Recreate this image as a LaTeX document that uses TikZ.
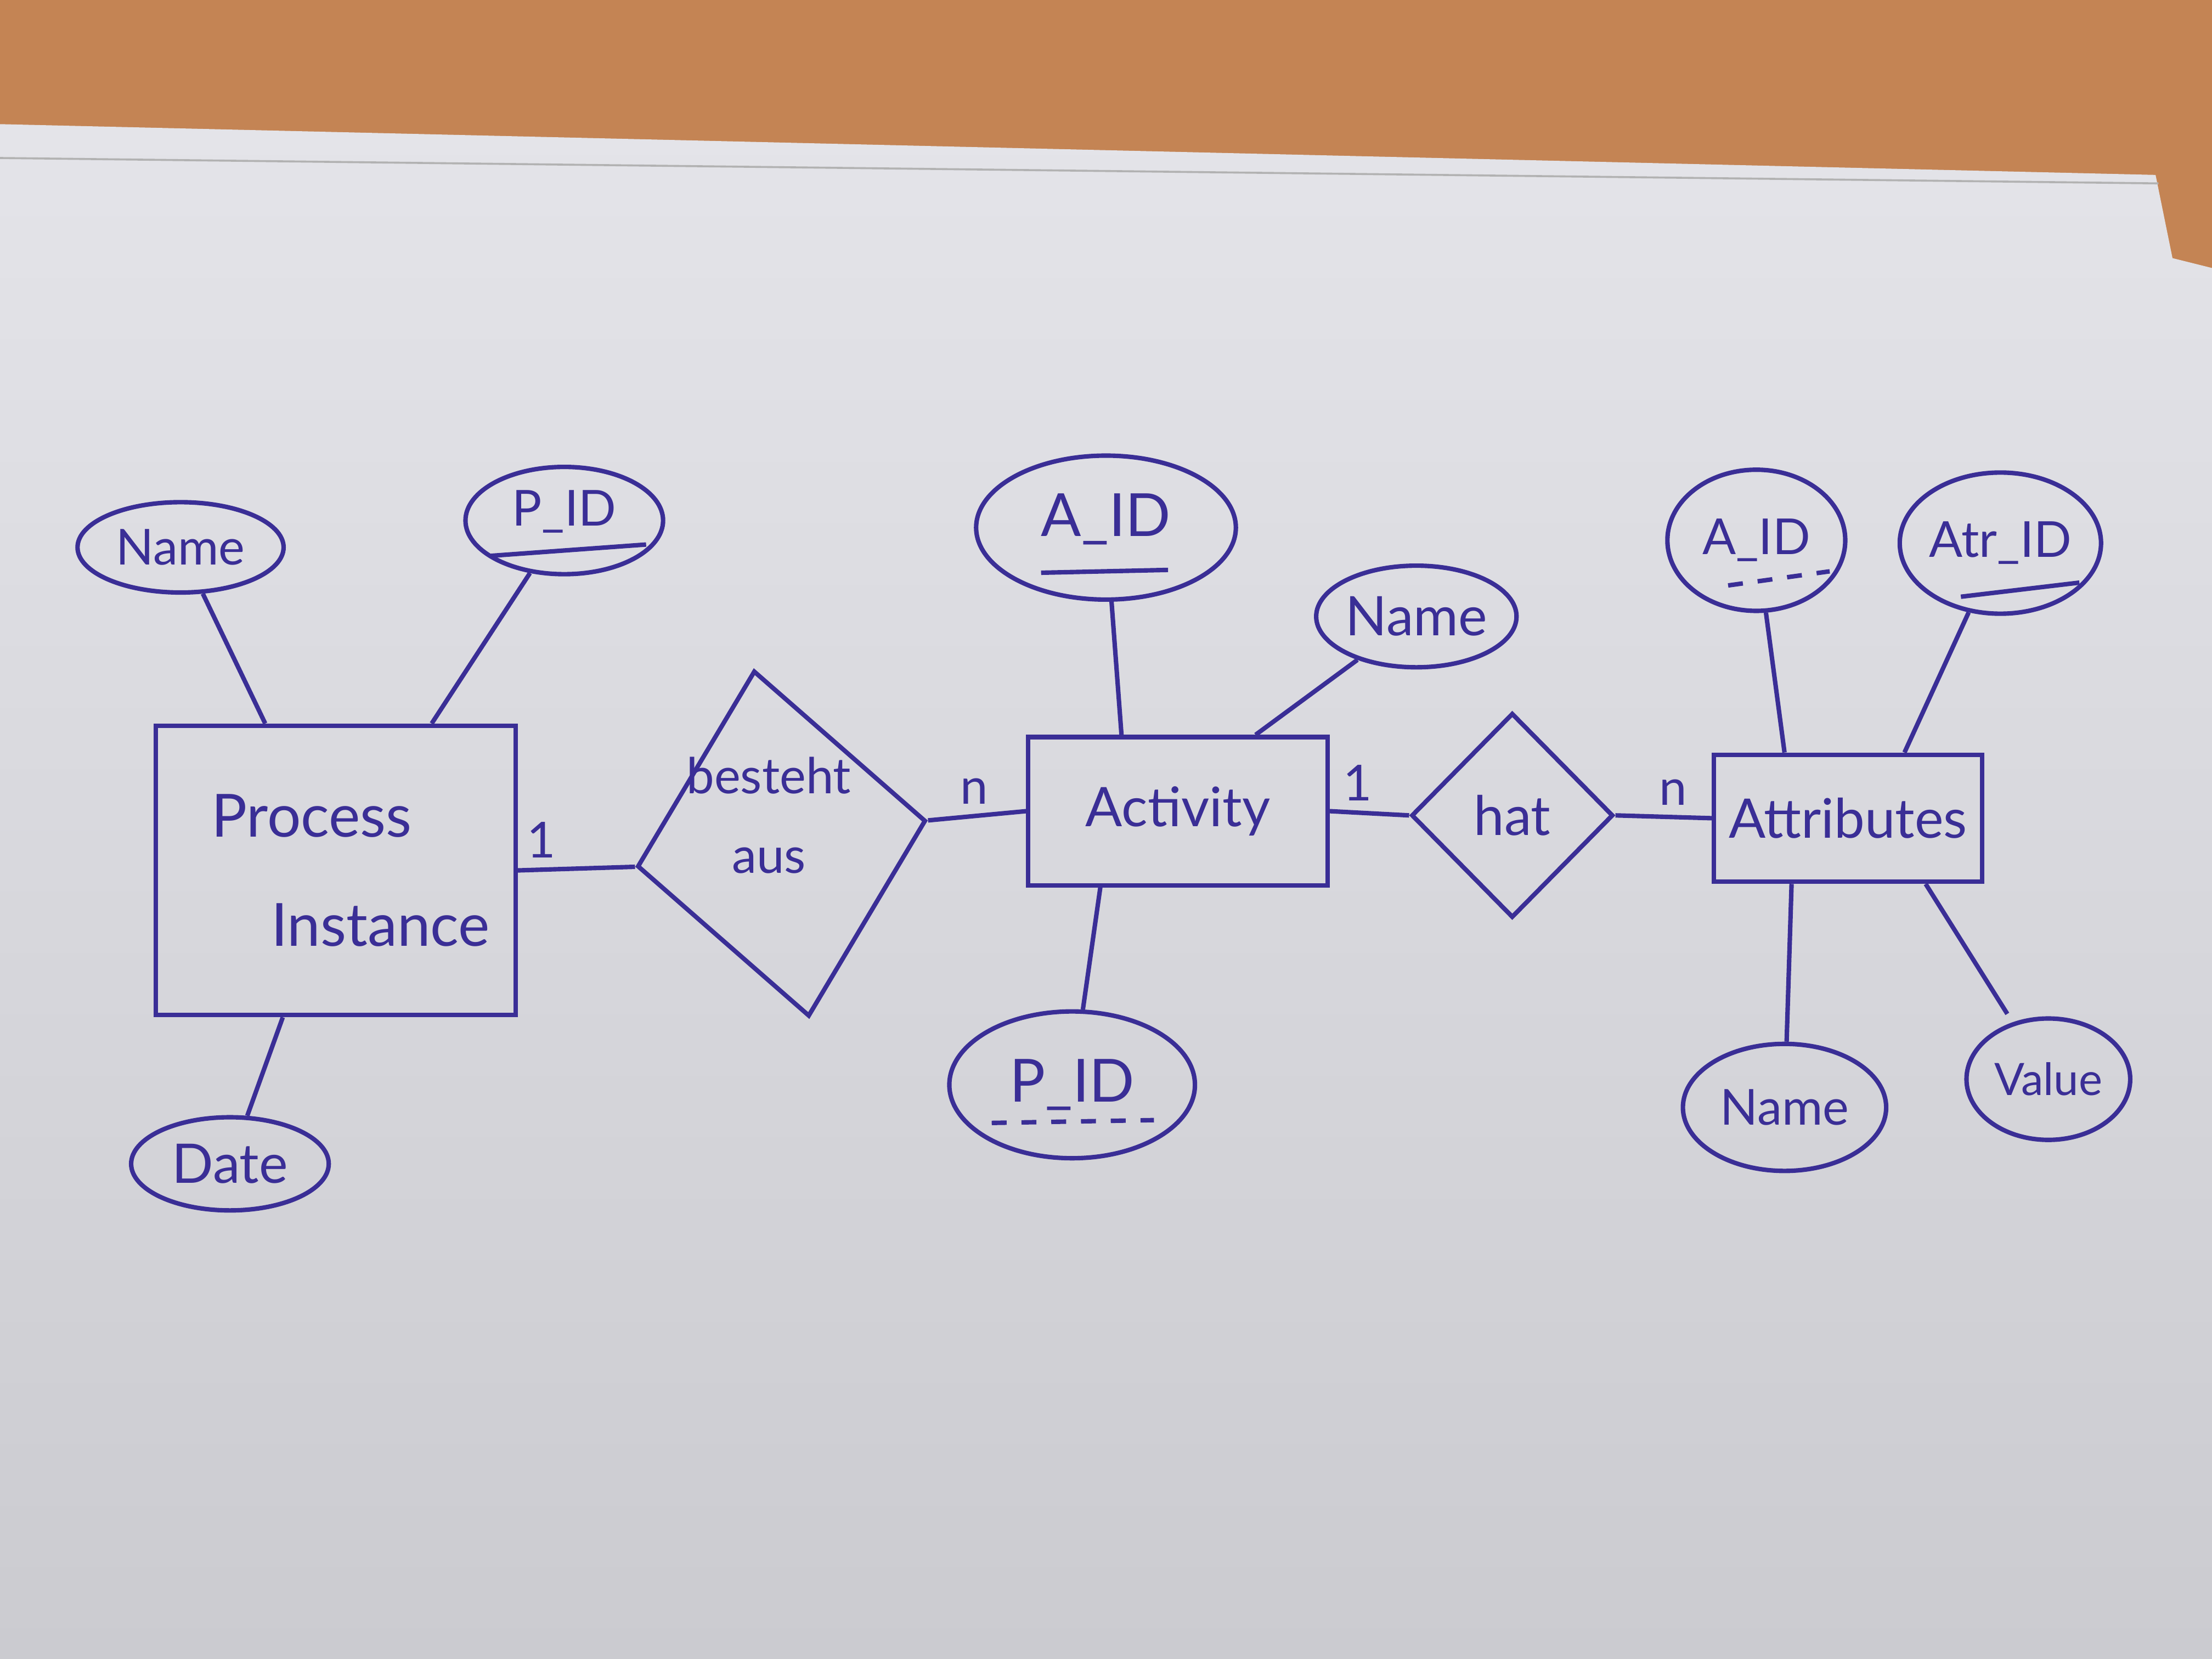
\documentclass[tikz,border=0pt]{standalone}
\usepackage{fontspec}
\setmainfont{Lato}
\usetikzlibrary{shapes.geometric,calc}
\definecolor{ink}{RGB}{58,46,150}
\definecolor{wood}{RGB}{196,132,84}
\definecolor{papertop}{RGB}{228,228,233}
\definecolor{paperbot}{RGB}{203,203,208}
\newcommand\myfs[1]{\fontsize{#1}{#1}\selectfont}
\tikzset{
  pen/.style={draw=ink, line width=0.9pt},
  attrnode/.style={pen, ellipse, inner sep=0pt, text=ink},
  entnode/.style={pen, rectangle, inner sep=0pt, text=ink},
  relnode/.style={pen, diamond, inner sep=0pt},
  link/.style={draw=ink, line width=0.9pt},
  card/.style={text=ink, font=\myfs{10}, inner sep=2pt},
}
\begin{document}
\begin{tikzpicture}[x=0.01cm, y=-0.01cm]
\useasboundingbox (0,0) rectangle (1568,1176);
% table and paper
\fill[wood] (0,0) rectangle (1568,1176);
\shade[top color=papertop, bottom color=paperbot] (0,88) -- (1528,124) -- (1540,183) -- (1568,190) -- (1568,1176) -- (0,1176) -- cycle;
\draw[gray!60, line width=0.4pt] (0,112) -- (1530,130);

% entities
\node[entnode, minimum width=2.55cm, minimum height=2.05cm, align=left, font=\fontsize{12}{22}\selectfont] (pi) at (238,617) {\hspace*{0.5em}Process\\\hspace*{1.5em}Instance};
\node[entnode, minimum width=2.12cm, minimum height=1.05cm, font=\myfs{11}] (act) at (835,575) {Activity};
\node[entnode, minimum width=1.90cm, minimum height=0.90cm, font=\myfs{11}] (attr) at (1310,580) {Attributes};

% relationships
\node[relnode, rotate=9, minimum width=2.07cm, minimum height=2.48cm] (rel1) at (554,598) {};
\node[text=ink, align=center, font=\fontsize{10}{16}\selectfont] (rel1txt) at (545,578) {besteht\\aus};
\node[relnode, minimum width=1.43cm, minimum height=1.45cm, text=ink, font=\myfs{11}] (rel2) at (1072,578) {hat};

% attributes of Process Instance
\node[attrnode, minimum width=1.46cm, minimum height=0.64cm, font=\myfs{10}] (name1) at (128,388) {Name};
\node[attrnode, minimum width=1.40cm, minimum height=0.76cm, text depth=5pt, font=\myfs{10}] (pid1) at (400,369) {P\_ID};
\node[attrnode, minimum width=1.40cm, minimum height=0.66cm, font=\myfs{11}] (date) at (163,825) {Date};

% attributes of Activity
\node[attrnode, minimum width=1.84cm, minimum height=1.02cm, text depth=5pt, font=\myfs{12}] (aid) at (784,374) {A\_ID};
\node[attrnode, minimum width=1.32cm, minimum height=0.72cm, font=\myfs{11}] (name2) at (1004,437) {Name};
\node[attrnode, minimum width=1.74cm, minimum height=1.04cm, font=\myfs{12}] (pid2) at (760,769) {P\_ID};

% attributes of Attributes
\node[attrnode, minimum width=1.26cm, minimum height=1.00cm, font=\myfs{10}] (aid3) at (1245,383) {A\_ID};
\node[attrnode, minimum width=1.26cm, minimum height=1.00cm, font=\myfs{10}] (atrid) at (1418,385) {Atr\_ID};
\node[attrnode, minimum width=1.44cm, minimum height=0.90cm, font=\myfs{10}] (name3) at (1265,785) {Name};
\node[attrnode, minimum width=1.16cm, minimum height=0.86cm, font=\myfs{9}] (value) at (1452,765) {Value};

% key underlines
\draw[link] ($(pid1)+(-52,25)$) -- ($(pid1)+(58,17)$);
\draw[link] ($(aid)+(-46,32)$) -- ($(aid)+(44,30)$);
\draw[link, dashed] ($(pid2)+(-57,27)$) -- ($(pid2)+(58,25)$);
\draw[link, dashed] ($(aid3)+(-20,32)$) -- ($(aid3)+(52,22)$);
\draw[link] ($(atrid)+(-28,38)$) -- ($(atrid)+(56,28)$);

% attribute connectors
\draw[link] (name1) -- (pi);
\draw[link] (pid1) -- (pi);
\draw[link] (date) -- (pi);
\draw[link] (aid) -- ([xshift=-0.4cm]act.north);
\draw[link] (name2) -- ([xshift=0.55cm]act.north);
\draw[link] ([xshift=-0.55cm]act.south) -- (pid2);
\draw[link] (aid3) -- ([xshift=-0.45cm]attr.north);
\draw[link] (atrid) -- ([xshift=0.4cm]attr.north);
\draw[link] ([xshift=-0.4cm]attr.south) -- (name3);
\draw[link, shorten >=0.07cm] ([xshift=0.55cm]attr.south) -- (value);

% relationship connectors with cardinalities
\draw[link] (pi.east) -- node[card, pos=0.2, above] {1} (rel1.west);
\draw[link] (rel1.east) -- node[card, pos=0.47, above] {n} (act.west);
\draw[link] (act.east) -- node[card, pos=0.35, above] {1} (rel2.west);
\draw[link] (rel2.east) -- node[card, pos=0.6, above] {n} (attr.west);
\end{tikzpicture}
\end{document}
